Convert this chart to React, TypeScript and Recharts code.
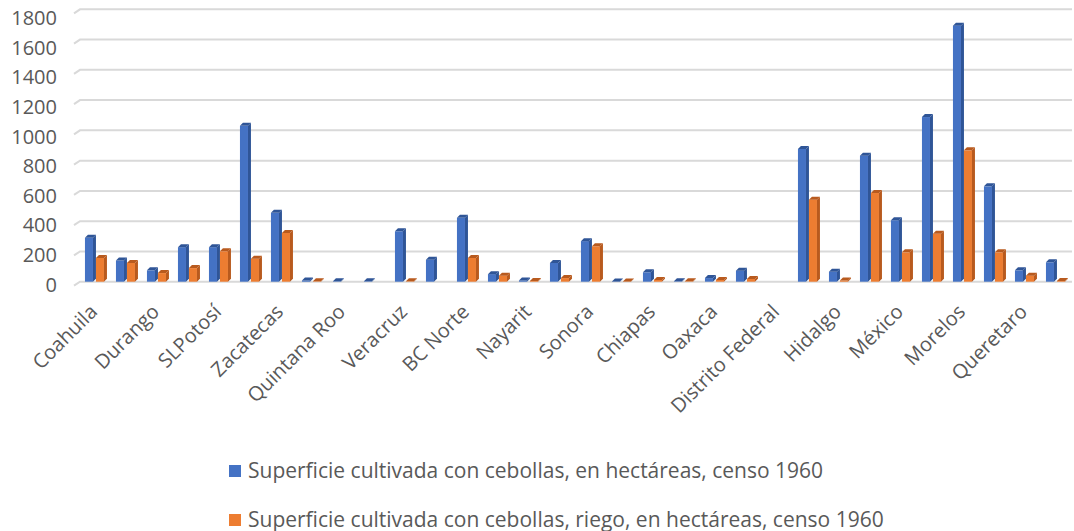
import React from 'react';
import { BarChart, Bar, XAxis, YAxis, CartesianGrid, Legend } from 'recharts';

const categories = [
  'Coahuila', '', 'Durango', '', 'SLPotosí', '', 'Zacatecas', '', 'Quintana Roo', '',
  'Veracruz', '', 'BC Norte', '', 'Nayarit', '', 'Sonora', '', 'Chiapas', '',
  'Oaxaca', '', 'Distrito Federal', '', 'Hidalgo', '', 'México', '', 'Morelos', '',
  'Queretaro', '',
];
const totalHa = [
  290, 140, 75, 228, 228, 1030, 455, 8, 3, 3,
  333, 145, 422, 50, 8, 124, 268, 2, 62, 3,
  24, 73, 0, 877, 66, 833, 406, 1088, 1692, 630,
  75, 128,
];
const riegoHa = [
  157, 124, 57, 90, 201, 152, 322, 3, 0, 0,
  3, 0, 157, 40, 5, 24, 234, 2, 12, 3,
  12, 18, 0, 542, 8, 586, 194, 317, 868, 194,
  40, 5,
];
const yTicks = [0, 200, 400, 600, 800, 1000, 1200, 1400, 1600, 1800];
const seriesNames = [
  'Superficie cultivada con cebollas, en hectáreas, censo 1960',
  'Superficie cultivada con cebollas, riego, en hectáreas, censo 1960',
];
const colors = ['#4472C4', '#ED7D31'];
const sideColors = ['#2F5597', '#B85A1E'];

const data = categories.map((c, i) => ({ name: c, total: totalHa[i], riego: riegoHa[i] }));

const FONT = '"Open Sans", "DejaVu Sans", sans-serif';
const TEXT = '#595959';

const make3D = (front: string, side: string) => (props: any) => {
  const { x, y, width, height } = props;
  if (!height || height <= 0) return null;
  const d = 3;
  const w = width;
  return (
    <g>
      <rect x={x} y={y} width={w - d} height={height} fill={front} />
      <polygon
        points={`${x + w - d},${y} ${x + w},${y - d} ${x + w},${y + height - d} ${x + w - d},${y + height}`}
        fill={side}
      />
      <polygon
        points={`${x},${y} ${x + d},${y - d} ${x + w},${y - d} ${x + w - d},${y}`}
        fill={side}
      />
    </g>
  );
};

const BlueShape = make3D(colors[0], sideColors[0]);
const OrangeShape = make3D(colors[1], sideColors[1]);

const XTick = (props: any) => {
  const { x, payload } = props;
  const label = payload.value;
  if (!label) return null;
  const ax = x + 3;
  const ay = 313;
  return (
    <text
      x={ax}
      y={ay}
      transform={`rotate(-45, ${ax}, ${ay})`}
      textAnchor="end"
      fill={TEXT}
      fontSize={20}
      fontFamily={FONT}
    >
      {label}
    </text>
  );
};

// value labels sit on the chart's front plane, slightly offset from the back-wall gridlines
const YTick = (props: any) => {
  const { y, payload } = props;
  const v = payload.value as number;
  const yy = y + 2.8 + (5.9 * v) / 1800;
  return (
    <text x={57} y={yy} dy="0.36em" textAnchor="end" fill={TEXT} fontSize={20} fontFamily={FONT}>
      {v}
    </text>
  );
};

const GridLine = (props: any) => {
  const { x1, x2, y1 } = props;
  return (
    <path
      d={`M${x1 - 6},${y1 + 4} L${x1},${y1} L${x2},${y1}`}
      stroke="#D9D9D9"
      strokeWidth={2}
      fill="none"
    />
  );
};

const LegendContent = () => (
  <div style={{ fontFamily: FONT, fontSize: 21, color: TEXT, lineHeight: 1 }}>
    {seriesNames.map((n, i) => (
      <div key={n} style={{ display: 'flex', alignItems: 'center', height: 49, paddingLeft: 229 }}>
        <span style={{ display: 'inline-block', width: 12, height: 12, background: colors[i], marginRight: 7 }} />
        <span>{n}</span>
      </div>
    ))}
  </div>
);

export default function App() {
  return (
    <div style={{ position: 'absolute', left: 0, top: 0, width: 1074, height: 531, background: '#fff' }}>
      <BarChart
        width={1074}
        height={531}
        data={data}
        margin={{ top: 9.3, right: 2, left: 0, bottom: 0 }}
        barGap={0}
        barCategoryGap="16%"
      >
        <CartesianGrid vertical={false} horizontal={<GridLine />} />
        <XAxis
          dataKey="name"
          interval={0}
          axisLine={false}
          tickLine={false}
          height={249.3}
          tick={<XTick />}
        />
        <YAxis
          domain={[0, 1800]}
          ticks={yTicks}
          axisLine={false}
          tickLine={false}
          width={80}
          tick={<YTick />}
        />
        <Legend
          layout="vertical"
          align="center"
          verticalAlign="middle"
          wrapperStyle={{ position: 'absolute', top: 446, left: 0, width: 1074 }}
          content={<LegendContent />}
        />
        <Bar dataKey="total" name={seriesNames[0]} fill={colors[0]} shape={BlueShape} isAnimationActive={false} />
        <Bar dataKey="riego" name={seriesNames[1]} fill={colors[1]} shape={OrangeShape} isAnimationActive={false} />
      </BarChart>
    </div>
  );
}
